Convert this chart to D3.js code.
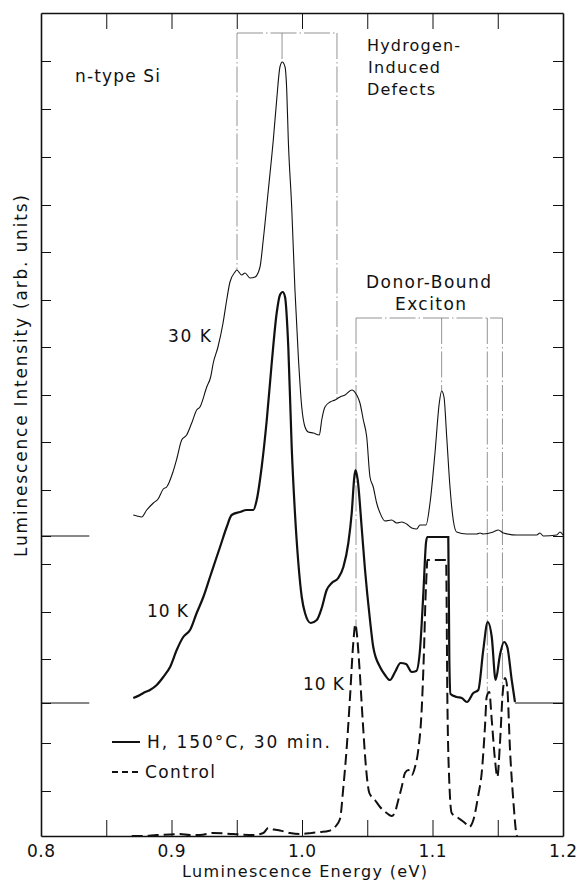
<!DOCTYPE html>
<html>
<head>
<meta charset="utf-8">
<script src="https://cdn.jsdelivr.net/npm/d3@7"></script>
<style>
    body { margin: 0; background: #fff; }
    text { font-family: "DejaVu Sans", "Liberation Sans", sans-serif; fill: #111; }
    .axis path, .axis line { stroke: #111; }
</style>
</head>
<body>
<script>
// spectra: [energy (eV), intensity above own baseline (arb.)]
var spectrum30K = [
    [0.8707, 2.1], [0.8735, 2.0], [0.8772, 1.9], [0.8810, 2.6], [0.8861, 3.3], [0.8897, 3.7],
    [0.8937, 4.7], [0.8963, 4.9], [0.9011, 6.4], [0.9042, 7.8], [0.9078, 9.6], [0.9116, 10.1],
    [0.9155, 11.3], [0.9193, 12.6], [0.9218, 12.9], [0.9270, 14.9], [0.9300, 15.9], [0.9320, 17.3],
    [0.9356, 18.9], [0.9395, 21.3], [0.9423, 23.6], [0.9448, 25.4], [0.9487, 26.4], [0.9500, 26.6],
    [0.9538, 26.1], [0.9563, 26.3], [0.9602, 25.8], [0.9640, 25.9], [0.9678, 26.9], [0.9703, 29.6],
    [0.9742, 34.6], [0.9780, 39.6], [0.9806, 43.6], [0.9831, 46.9], [0.9849, 47.4], [0.9870, 46.9],
    [0.9883, 44.6], [0.9895, 39.6], [0.9921, 32.9], [0.9946, 24.6], [0.9972, 17.9], [0.9998, 12.9],
    [1.0023, 10.9], [1.0048, 10.4], [1.0087, 10.3], [1.0133, 10.1], [1.0151, 11.6], [1.0176, 12.9],
    [1.0215, 13.4], [1.0253, 13.6], [1.0291, 13.9], [1.0330, 14.1], [1.0381, 14.6], [1.0419, 14.1],
    [1.0444, 13.3], [1.0470, 11.6], [1.0496, 9.9], [1.0521, 5.9], [1.0546, 4.9], [1.0572, 3.3],
    [1.0598, 2.3], [1.0636, 1.5], [1.0687, 1.6], [1.0726, 1.3], [1.0764, 1.4], [1.0802, 1.2],
    [1.0841, 0.8], [1.0879, 0.7], [1.0904, 1.1], [1.0950, 1.1], [1.0981, 3.3], [1.1019, 8.3],
    [1.1052, 13.3], [1.1070, 14.5], [1.1088, 13.9], [1.1109, 9.9], [1.1134, 4.9], [1.1159, 1.6],
    [1.1185, 0.4], [1.1262, 0.2], [1.1339, 0.2], [1.1364, 0.3], [1.1389, 0.2], [1.1466, 0.4],
    [1.1504, 0.6], [1.1543, 0.3], [1.1645, 0.1], [1.1798, 0.1], [1.1824, 0.3], [1.1849, 0.0],
    [1.1952, 0.1], [1.1977, 0.4], [1.2000, 0.1]
];

var spectrum10K = [
    [0.8707, 0.5], [0.8759, 0.8], [0.8784, 1.0], [0.8835, 1.3], [0.8887, 1.8], [0.8937, 2.6],
    [0.8989, 3.6], [0.9040, 5.3], [0.9090, 6.6], [0.9142, 7.3], [0.9193, 9.0], [0.9244, 10.6],
    [0.9295, 12.6], [0.9346, 14.6], [0.9372, 15.6], [0.9423, 17.6], [0.9461, 18.8], [0.9525, 19.1],
    [0.9576, 19.3], [0.9627, 19.3], [0.9653, 20.3], [0.9691, 23.6], [0.9730, 28.3], [0.9768, 34.0],
    [0.9806, 39.0], [0.9831, 40.8], [0.9852, 41.1], [0.9870, 40.6], [0.9895, 35.6], [0.9921, 25.6],
    [0.9946, 19.0], [0.9972, 14.0], [0.9998, 10.6], [1.0023, 9.0], [1.0067, 8.0], [1.0113, 8.3],
    [1.0151, 9.5], [1.0189, 11.3], [1.0228, 12.0], [1.0278, 12.5], [1.0317, 13.6], [1.0355, 16.0],
    [1.0381, 19.0], [1.0401, 22.6], [1.0410, 23.3], [1.0427, 22.3], [1.0457, 17.6], [1.0483, 13.3],
    [1.0521, 8.3], [1.0546, 5.6], [1.0598, 3.6], [1.0636, 2.8], [1.0674, 2.3], [1.0713, 3.1],
    [1.0755, 4.0], [1.0797, 3.9], [1.0841, 3.1], [1.0876, 3.2], [1.0904, 5.3], [1.0930, 11.0],
    [1.0950, 16.0], [1.0960, 16.6], [1.1121, 16.6], [1.1129, 4.3], [1.1138, 0.9], [1.1185, 0.6],
    [1.1224, 0.5], [1.1264, 0.1], [1.1313, 1.0], [1.1351, 1.3], [1.1389, 5.3], [1.1423, 8.1],
    [1.1454, 6.6], [1.1484, 2.3], [1.1517, 4.8], [1.1548, 6.1], [1.1573, 5.6], [1.1607, 2.3],
    [1.1632, 0.1]
];

var spectrumControl = [
    [0.8695, 0.0], [0.8782, 0.0], [0.8887, 0.1], [0.8989, 0.15], [0.9065, 0.2], [0.9142, 0.1],
    [0.9218, 0.1], [0.9320, 0.3], [0.9474, 0.2], [0.9627, 0.1], [0.9703, 0.3], [0.9742, 0.8],
    [0.9785, 0.65], [0.9831, 0.55], [0.9908, 0.3], [0.9985, 0.2], [1.0074, 0.3], [1.0138, 0.4],
    [1.0202, 0.5], [1.0253, 0.9], [1.0291, 1.7], [1.0317, 4.9], [1.0343, 8.9], [1.0368, 13.9],
    [1.0393, 19.3], [1.0409, 21.2], [1.0419, 20.4], [1.0439, 17.1], [1.0465, 11.6], [1.0490, 6.9],
    [1.0516, 4.3], [1.0559, 3.6], [1.0598, 2.9], [1.0649, 2.3], [1.0687, 2.0], [1.0713, 2.4],
    [1.0738, 3.6], [1.0764, 4.9], [1.0789, 6.3], [1.0815, 6.6], [1.0841, 6.1], [1.0866, 6.9],
    [1.0891, 8.6], [1.0917, 12.6], [1.0935, 18.6], [1.0946, 23.6], [1.0956, 26.6], [1.0960, 27.6],
    [1.1104, 27.6], [1.1114, 13.6], [1.1129, 5.3], [1.1147, 2.3], [1.1198, 1.8], [1.1249, 1.3],
    [1.1280, 0.9], [1.1313, 1.6], [1.1351, 4.1], [1.1377, 6.3], [1.1402, 10.9], [1.1415, 13.9],
    [1.1435, 14.4], [1.1454, 11.6], [1.1479, 7.6], [1.1497, 5.9], [1.1517, 9.3], [1.1538, 14.3],
    [1.1556, 15.8], [1.1573, 14.8], [1.1594, 8.6], [1.1619, 3.6], [1.1645, 0.1], [1.1650, 0.0]
];

// vertical offsets of the stacked traces (arb. units)
var baseline30K = 30.0,
    baseline10K = 13.3,
    baselineControl = 0;

// axis ticks
var xLabelTicks = [0.8, 0.9, 1.0, 1.1, 1.2];
var xMinorTicks = [0.85, 0.9, 0.95, 1.0, 1.05, 1.1, 1.15];
var yTicks = [4.5, 9.3, 13.3, 17.7, 22.4, 27.2, 30.0, 34.6, 39.4, 44.1, 48.9, 53.6,
    58.4, 63.1, 67.9, 72.7, 77.5];

// peak markers: energy (eV) and the trace each line drops to
var defectLines = [0.9502, 0.9847, 1.0268];
var defectTargets = ['30K', '30K', '30K'];
var donorLines = [1.0414, 1.1070, 1.1420, 1.1536];
var donorTargets = ['control', '30K', 'control', 'control'];
var defectTop = 80.3,
    donorTop = 51.8;

window.onload = function () {
    var w = 583,
        h = 882;

    var svg = d3.select('body')
        .append('svg')
        .attr('width', w)
        .attr('height', h);

    var x = d3.scaleLinear()
        .domain([0.8, 1.2])
        .range([41, 563]);

    var y = d3.scaleLinear()
        .domain([0, 82.3])
        .range([836, 13]);

    var traces = {
        '30K': { data: spectrum30K, base: baseline30K },
        '10K': { data: spectrum10K, base: baseline10K },
        'control': { data: spectrumControl, base: baselineControl }
    };

    // linear lookup of a trace at a given energy
    function levelAt(key, e) {
        var t = traces[key], d = t.data;
        for (var i = 0; i < d.length - 1; i++) {
            if (e >= d[i][0] && e <= d[i + 1][0]) {
                var f = (e - d[i][0]) / (d[i + 1][0] - d[i][0]);
                return t.base + d[i][1] + f * (d[i + 1][1] - d[i][1]);
            }
        }
        return t.base;
    }

    // ---- frame and ticks ----
    svg.append('g')
        .attr('class', 'axis')
        .attr('transform', 'translate(0,' + y(0) + ')')
        .call(d3.axisBottom(x).tickValues(xMinorTicks).tickSizeInner(-16).tickSizeOuter(0).tickFormat(''));

    svg.append('g')
        .attr('class', 'axis')
        .attr('transform', 'translate(0,' + y(82.3) + ')')
        .call(d3.axisTop(x).tickValues(xMinorTicks).tickSizeInner(-16).tickSizeOuter(0).tickFormat(''));

    svg.append('g')
        .attr('class', 'axis')
        .attr('transform', 'translate(' + x(0.8) + ',0)')
        .call(d3.axisLeft(y).tickValues(yTicks).tickSizeInner(-10).tickSizeOuter(0).tickFormat(''));

    svg.append('g')
        .attr('class', 'axis')
        .attr('transform', 'translate(' + x(1.2) + ',0)')
        .call(d3.axisRight(y).tickValues(yTicks).tickSizeInner(-10).tickSizeOuter(0).tickFormat(''));

    svg.selectAll('.axis path').style('stroke-width', 1.6);
    svg.selectAll('.axis line').style('stroke-width', 1);

    // energy labels under the frame
    svg.selectAll('.xlabel')
        .data(xLabelTicks)
        .enter()
        .append('text')
        .attr('class', 'xlabel')
        .attr('x', function (d) { return x(d); })
        .attr('y', 857)
        .attr('text-anchor', 'middle')
        .attr('textLength', 28)
        .attr('lengthAdjust', 'spacing')
        .style('font-size', '17px')
        .text(function (d) { return d3.format('.1f')(d); });

    // ---- baseline stubs ----
    var stubs = [[0.8, 0.837, baseline30K], [0.8, 0.837, baseline10K],
        [spectrum10K[spectrum10K.length - 1][0], 1.2, baseline10K]];
    svg.selectAll('.stub')
        .data(stubs)
        .enter()
        .append('line')
        .attr('class', 'stub')
        .attr('x1', function (d) { return x(d[0]); })
        .attr('x2', function (d) { return x(d[1]); })
        .attr('y1', function (d) { return y(d[2]); })
        .attr('y2', function (d) { return y(d[2]); })
        .style('stroke', '#111')
        .style('stroke-width', 1);

    // ---- dash-dot peak markers ----
    var guide = svg.append('g')
        .attr('class', 'guides')
        .style('stroke', '#666')
        .style('stroke-width', 0.7)
        .style('stroke-dasharray', '26,3,1.5,3')
        .style('fill', 'none');

    guide.selectAll('.defect')
        .data(defectLines)
        .enter()
        .append('line')
        .attr('x1', function (d) { return x(d); })
        .attr('x2', function (d) { return x(d); })
        .attr('y1', y(defectTop))
        .attr('y2', function (d, i) { return y(levelAt(defectTargets[i], d)); });

    guide.append('line')
        .attr('x1', x(defectLines[0])).attr('x2', x(defectLines[defectLines.length - 1]))
        .attr('y1', y(defectTop)).attr('y2', y(defectTop));

    guide.selectAll('.donor')
        .data(donorLines)
        .enter()
        .append('line')
        .attr('x1', function (d) { return x(d); })
        .attr('x2', function (d) { return x(d); })
        .attr('y1', y(donorTop))
        .attr('y2', function (d, i) { return y(levelAt(donorTargets[i], d)); });

    guide.append('line')
        .attr('x1', x(donorLines[0])).attr('x2', x(donorLines[donorLines.length - 1]))
        .attr('y1', y(donorTop)).attr('y2', y(donorTop));

    // ---- spectra ----
    function traceLine(base) {
        return d3.line()
            .x(function (d) { return x(d[0]); })
            .y(function (d) { return y(base + d[1]); })
            .curve(d3.curveMonotoneX);
    }

    svg.append('path')
        .datum(spectrum30K)
        .attr('d', traceLine(baseline30K))
        .style('fill', 'none')
        .style('stroke', '#111')
        .style('stroke-width', 1.1);

    svg.append('path')
        .datum(spectrum10K)
        .attr('d', traceLine(baseline10K))
        .style('fill', 'none')
        .style('stroke', '#111')
        .style('stroke-width', 2.2);

    svg.append('path')
        .datum(spectrumControl)
        .attr('d', traceLine(baselineControl))
        .style('fill', 'none')
        .style('stroke', '#111')
        .style('stroke-width', 2)
        .style('stroke-dasharray', '11,5');

    // ---- annotations ----
    var notes = [
        { t: 'n-type Si', x: 75, y: 82, w: 85, s: 17 },
        { t: 'Hydrogen-', x: 367, y: 51, w: 93, s: 16 },
        { t: 'Induced', x: 368, y: 73, w: 72, s: 16 },
        { t: 'Defects', x: 367, y: 95, w: 68, s: 16 },
        { t: 'Donor-Bound', x: 366, y: 288, w: 125, s: 17 },
        { t: 'Exciton', x: 395, y: 310, w: 71, s: 17 },
        { t: '30 K', x: 168, y: 342, w: 43, s: 17 },
        { t: '10 K', x: 147, y: 617, w: 41, s: 17 },
        { t: '10 K', x: 303, y: 690, w: 41, s: 17 },
        { t: 'H, 150°C, 30 min.', x: 147, y: 748, w: 183, s: 17 },
        { t: 'Control', x: 145, y: 778, w: 70, s: 17 },
        { t: 'Luminescence Energy (eV)', x: 182, y: 877, w: 245, s: 16 }
    ];

    svg.selectAll('.note')
        .data(notes)
        .enter()
        .append('text')
        .attr('class', 'note')
        .attr('x', function (d) { return d.x; })
        .attr('y', function (d) { return d.y; })
        .attr('textLength', function (d) { return d.w; })
        .attr('lengthAdjust', 'spacing')
        .style('font-size', function (d) { return d.s + 'px'; })
        .text(function (d) { return d.t; });

    svg.append('text')
        .attr('transform', 'translate(27,376) rotate(-90)')
        .attr('text-anchor', 'middle')
        .attr('textLength', 362)
        .attr('lengthAdjust', 'spacing')
        .style('font-size', '17px')
        .text('Luminescence Intensity (arb. units)');

    // legend samples
    svg.append('line')
        .attr('x1', 112).attr('x2', 140)
        .attr('y1', 742).attr('y2', 742)
        .style('stroke', '#111')
        .style('stroke-width', 2);

    svg.append('line')
        .attr('x1', 112).attr('x2', 140)
        .attr('y1', 772).attr('y2', 772)
        .style('stroke', '#111')
        .style('stroke-width', 2)
        .style('stroke-dasharray', '6,4');
};
</script>
</body>
</html>
